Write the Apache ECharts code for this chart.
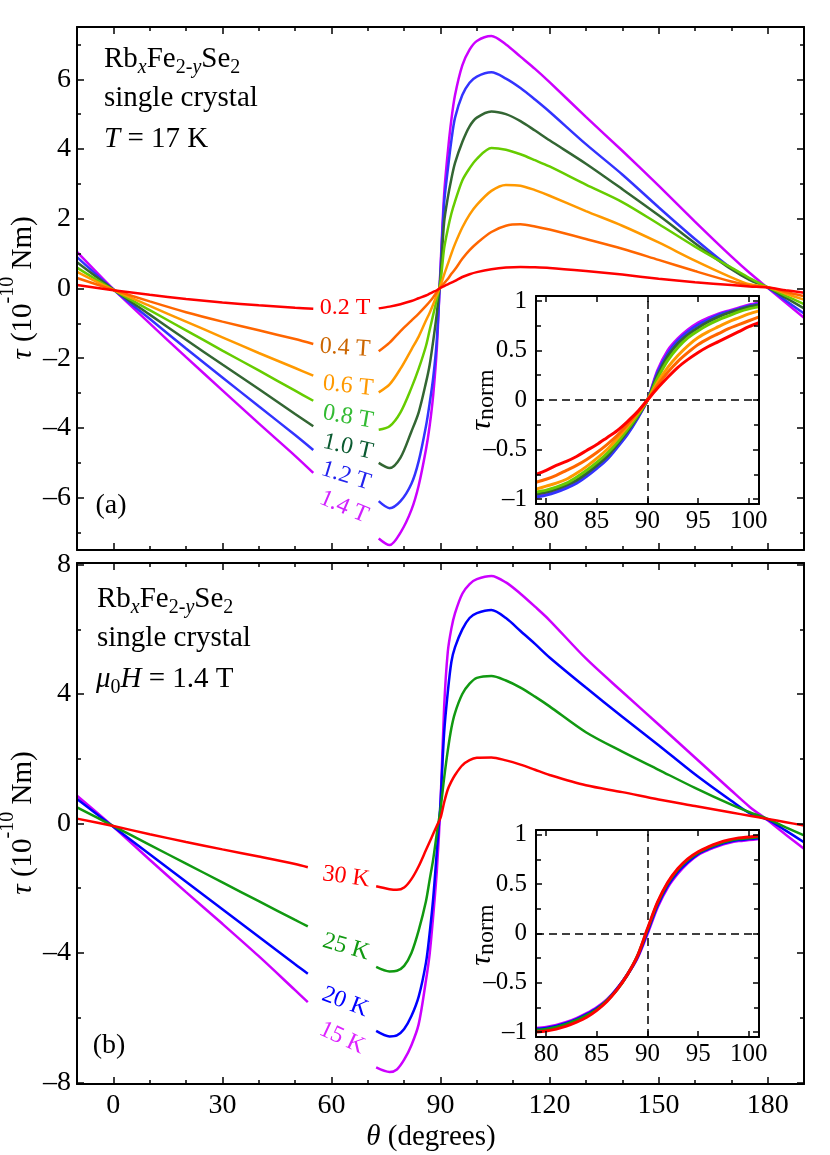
<!DOCTYPE html>
<html><head><meta charset="utf-8">
<script src="https://cdn.jsdelivr.net/npm/echarts@6/dist/echarts.min.js"></script>
<style>html,body{margin:0;padding:0;background:#fff}#c{width:830px;height:1155px}</style>
</head><body><div id="c"></div>
<script>
// ---------- DATA ----------
const thetaA = [-10, 0, 10, 20, 30, 40, 50, 55, 64, 73, 76, 79, 82, 84, 86, 87, 88, 89, 90, 91, 92, 93, 94, 96, 98, 100, 104, 108, 112, 116, 120, 130, 140, 150, 160, 170, 175, 180, 185, 190];
const tauA14 = [1.05, -0.02, -1.0, -1.97, -2.92, -3.87, -4.8, -5.29, null, -7.17, -7.36, -7.0, -6.35, -5.65, -4.62, -3.95, -3.05, -1.7, 0.6, 2.7, 3.9, 4.85, 5.55, 6.4, 6.85, 7.1, 7.24, 7.0, 6.65, 6.3, 5.92, 4.92, 3.95, 2.95, 1.92, 0.92, 0.45, 0.02, -0.41, -0.84];
const tauA12 = [0.9, -0.03, -0.87, -1.72, -2.55, -3.38, -4.2, -4.63, null, -6.1, -6.3, -6.1, -5.6, -4.95, -3.95, -3.3, -2.55, -1.45, 0.5, 2.45, 3.4, 4.25, 4.9, 5.55, 5.9, 6.08, 6.2, 6.02, 5.75, 5.42, 5.07, 4.14, 3.27, 2.33, 1.42, 0.58, 0.28, 0.02, -0.35, -0.72];
const tauA10 = [0.75, -0.03, -0.75, -1.47, -2.18, -2.88, -3.6, -3.95, null, -5.0, -5.15, -4.85, -4.1, -3.55, -2.7, -2.2, -1.5, -0.7, 0.35, 1.9, 2.6, 3.15, 3.6, 4.2, 4.65, 4.9, 5.08, 5.0, 4.8, 4.53, 4.25, 3.58, 2.85, 2.1, 1.3, 0.55, 0.25, 0.03, -0.27, -0.57];
const tauA08 = [0.6, -0.04, -0.62, -1.2, -1.78, -2.35, -2.93, -3.22, null, -4.05, -3.95, -3.55, -2.85, -2.3, -1.65, -1.2, -0.75, -0.3, 0.2, 1.15, 1.7, 2.15, 2.5, 3.1, 3.45, 3.72, 4.03, 3.98, 3.85, 3.68, 3.5, 2.98, 2.48, 1.85, 1.2, 0.6, 0.3, 0.04, -0.21, -0.45];
const tauA06 = [0.48, -0.04, -0.5, -0.95, -1.4, -1.85, -2.28, -2.5, null, -2.98, -2.75, -2.3, -1.75, -1.38, -0.92, -0.7, -0.45, -0.18, 0.08, 0.4, 0.7, 1.0, 1.28, 1.75, 2.12, 2.4, 2.8, 2.97, 2.95, 2.82, 2.66, 2.22, 1.8, 1.32, 0.8, 0.32, 0.12, 0.04, -0.15, -0.32];
const tauA04 = [0.3, -0.04, -0.37, -0.68, -0.95, -1.2, -1.45, -1.59, null, -1.8, -1.55, -1.22, -0.92, -0.72, -0.5, -0.38, -0.25, -0.1, 0.04, 0.15, 0.27, 0.42, 0.55, 0.85, 1.1, 1.3, 1.62, 1.8, 1.84, 1.78, 1.69, 1.42, 1.14, 0.82, 0.5, 0.2, 0.09, 0.04, -0.1, -0.22];
const tauA02 = [0.1, -0.05, -0.18, -0.3, -0.4, -0.48, -0.55, -0.58, null, -0.57, -0.52, -0.45, -0.36, -0.28, -0.2, -0.15, -0.1, -0.05, 0.02, 0.07, 0.12, 0.17, 0.22, 0.33, 0.41, 0.47, 0.55, 0.6, 0.62, 0.61, 0.59, 0.5, 0.4, 0.28, 0.18, 0.1, 0.06, 0.03, -0.05, -0.12];

const thetaB = [-10, 0, 10, 20, 30, 40, 50, 53.5, 63, 72.3, 76, 78, 80, 82, 84, 86, 87, 88, 89, 90, 91, 92, 93, 94, 96, 98, 100, 104, 108, 112, 116, 120, 130, 140, 150, 160, 170, 175, 180, 185, 190];
const tauB15 = [0.86, -0.1, -1.12, -2.12, -3.1, -4.1, -5.15, -5.52, null, -7.54, -7.68, -7.6, -7.3, -6.85, -6.2, -4.85, -4.05, -2.85, -1.45, 0.6, 3.6, 5.3, 6.03, 6.5, 7.1, 7.4, 7.55, 7.65, 7.45, 7.1, 6.7, 6.28, 5.1, 4.07, 3.06, 2.04, 1.02, 0.52, 0.1, -0.35, -0.78];
const tauB20 = [0.76, -0.1, -0.95, -1.8, -2.65, -3.5, -4.35, -4.64, null, -6.41, -6.58, -6.55, -6.35, -5.95, -5.35, -4.3, -3.4, -2.3, -0.85, 0.65, 2.8, 4.05, 5.0, 5.45, 6.0, 6.35, 6.5, 6.6, 6.35, 5.95, 5.55, 5.13, 4.2, 3.3, 2.42, 1.52, 0.7, 0.32, 0.12, -0.22, -0.58];
const tauB25 = [0.5, -0.08, -0.66, -1.24, -1.82, -2.4, -2.98, -3.18, null, -4.43, -4.57, -4.55, -4.4, -4.0, -3.3, -2.4, -1.75, -1.1, -0.3, 0.45, 1.4, 2.25, 2.95, 3.42, 4.0, 4.32, 4.5, 4.56, 4.42, 4.2, 3.92, 3.62, 2.82, 2.22, 1.66, 1.1, 0.58, 0.35, 0.14, -0.12, -0.37];
const tauB30 = [0.15, -0.08, -0.33, -0.57, -0.8, -1.02, -1.25, -1.35, null, -1.94, -2.03, -2.05, -1.98, -1.72, -1.32, -0.82, -0.57, -0.32, -0.07, 0.17, 0.65, 1.05, 1.3, 1.5, 1.8, 1.96, 2.03, 2.04, 1.95, 1.82, 1.66, 1.5, 1.18, 0.97, 0.74, 0.54, 0.34, 0.24, 0.14, 0.04, -0.06];

const thetaIn = [79, 80, 81, 82, 83, 84, 85, 86, 87, 88, 89, 90, 91, 92, 93, 94, 95, 96, 97, 98, 99, 100, 101];
const normA02 = [-0.75, -0.71, -0.66, -0.62, -0.57, -0.51, -0.45, -0.38, -0.31, -0.22, -0.12, 0.0, 0.12, 0.23, 0.33, 0.41, 0.48, 0.54, 0.59, 0.64, 0.69, 0.74, 0.78];
const normA04 = [-0.83, -0.8, -0.76, -0.71, -0.66, -0.6, -0.53, -0.45, -0.36, -0.25, -0.13, 0.0, 0.15, 0.28, 0.39, 0.48, 0.56, 0.62, 0.67, 0.72, 0.76, 0.8, 0.84];
const normA06 = [-0.9, -0.87, -0.84, -0.8, -0.74, -0.67, -0.59, -0.5, -0.39, -0.27, -0.14, 0.0, 0.18, 0.33, 0.45, 0.55, 0.63, 0.69, 0.74, 0.79, 0.83, 0.87, 0.9];
const normA08 = [-0.93, -0.91, -0.88, -0.84, -0.78, -0.71, -0.63, -0.54, -0.43, -0.3, -0.16, 0.0, 0.22, 0.4, 0.53, 0.63, 0.7, 0.76, 0.81, 0.85, 0.89, 0.92, 0.94];
const normA10 = [-0.95, -0.93, -0.9, -0.86, -0.81, -0.74, -0.66, -0.57, -0.45, -0.32, -0.17, 0.0, 0.25, 0.44, 0.57, 0.66, 0.73, 0.79, 0.84, 0.88, 0.91, 0.94, 0.96];
const normA12 = [-0.98, -0.96, -0.93, -0.89, -0.84, -0.77, -0.69, -0.6, -0.48, -0.35, -0.19, 0.0, 0.28, 0.47, 0.6, 0.69, 0.76, 0.81, 0.86, 0.89, 0.92, 0.95, 0.97];
const normA14 = [-0.97, -0.95, -0.92, -0.88, -0.82, -0.75, -0.67, -0.58, -0.47, -0.34, -0.18, 0.0, 0.3, 0.5, 0.62, 0.71, 0.78, 0.83, 0.87, 0.9, 0.93, 0.96, 0.98];
const normB30 = [-1.0, -0.99, -0.97, -0.94, -0.9, -0.85, -0.78, -0.69, -0.57, -0.42, -0.23, 0.05, 0.32, 0.52, 0.66, 0.76, 0.83, 0.88, 0.92, 0.95, 0.97, 0.98, 0.99];
const normB25 = [-0.98, -0.97, -0.95, -0.92, -0.88, -0.83, -0.77, -0.68, -0.57, -0.42, -0.23, 0.04, 0.31, 0.51, 0.65, 0.75, 0.82, 0.87, 0.91, 0.94, 0.96, 0.97, 0.98];
const normB20 = [-0.97, -0.96, -0.94, -0.91, -0.87, -0.82, -0.76, -0.68, -0.56, -0.42, -0.24, 0.02, 0.29, 0.49, 0.63, 0.73, 0.81, 0.86, 0.9, 0.93, 0.95, 0.96, 0.97];
const normB15 = [-0.96, -0.95, -0.93, -0.9, -0.86, -0.81, -0.75, -0.67, -0.56, -0.42, -0.25, 0.0, 0.27, 0.47, 0.61, 0.72, 0.8, 0.85, 0.89, 0.92, 0.94, 0.95, 0.96];

const fieldLabels = ['1.4 T', '1.2 T', '1.0 T', '0.8 T', '0.6 T', '0.4 T', '0.2 T'];
const tempLabels = ['15 K', '20 K', '25 K', '30 K'];
const xTicksMain = [0, 30, 60, 90, 120, 150, 180];
const xMinorMain = [10, 20, 40, 50, 70, 80, 100, 110, 130, 140, 160, 170];
const yTicksA = [-6, -4, -2, 0, 2, 4, 6];
const yMinorA = [-7, -5, -3, -1, 1, 3, 5, 7];
const yTicksB = [-8, -4, 0, 4, 8];
const yMinorB = [-6, -2, 2, 6];
const xTicksIn = [80, 85, 90, 95, 100];
const yTicksIn = [-1, -0.5, 0, 0.5, 1];
const yMinorIn = [-0.75, -0.25, 0.25, 0.75];

// ---------- STYLE ----------
const SERIF = "'Liberation Serif','Times New Roman','DejaVu Serif',serif";
const colA = ['#cc00ff', '#3333ff', '#336633', '#66cc00', '#ff9900', '#ff6600', '#ff0000'];
const labColA = ['#d020ff', '#2222ee', '#0a5a30', '#33bb33', '#ff9900', '#cc6600', '#ff0000'];
const colB = ['#cc00ff', '#0000ff', '#119911', '#ff0000'];
const labColB = ['#dd22ff', '#0000ff', '#119911', '#ff0000'];

const fmt = v => (v < 0 ? '\u2013' + String(-v) : String(v));
const pairs = (xs, ys) => xs.map((x, i) => [x, ys[i] == null ? '-' : ys[i]]);

const xAxis = [], yAxis = [];
function addAxes(list, dim, gi, min, max, majors, minors, labels, cfg) {
  const idx = list.length;
  const sides = dim === 'x' ? ['bottom', 'top'] : ['left', 'right'];
  sides.forEach((side, si) => {
    [[majors, cfg.major], [minors, cfg.minor]].forEach(([vals, len], ki) => {
      if (!vals.length) return;
      list.push({
        type: 'value', gridIndex: gi, min, max, position: side, z: cfg.z,
        axisLine: { show: ki === 0, onZero: false, lineStyle: { color: '#000', width: 2 } },
        axisTick: { show: true, inside: true, length: len, customValues: vals, lineStyle: { color: '#000', width: 1.5 } },
        axisLabel: { show: labels && si === 0 && ki === 0, customValues: majors, formatter: fmt,
          fontFamily: SERIF, fontSize: cfg.fs, color: '#000', margin: cfg.margin },
        splitLine: { show: false }, minorTick: { show: false }
      });
    });
  });
  return idx;
}
const mainX = { major: 7, minor: 4, fs: 28, margin: 8, z: 3 };
const mainY = { major: 7, minor: 4, fs: 28, margin: 6, z: 3 };
const inX = { major: 6, minor: 5, fs: 25, margin: 5, z: 7 };
const inY = { major: 6, minor: 5, fs: 25, margin: 9, z: 7 };

const xa = addAxes(xAxis, 'x', 0, -10, 190, xTicksMain, xMinorMain, false, mainX);
const ya = addAxes(yAxis, 'y', 0, -7.5, 7.5, yTicksA, yMinorA, true, mainY);
const xb = addAxes(xAxis, 'x', 1, -10, 190, xTicksMain, xMinorMain, true, mainX);
const yb = addAxes(yAxis, 'y', 1, -8.05, 8.05, yTicksB, yMinorB, true, mainY);
const xia = addAxes(xAxis, 'x', 2, 79, 101, xTicksIn, [], true, inX);
const yia = addAxes(yAxis, 'y', 2, -1.05, 1.05, yTicksIn, yMinorIn, true, inY);
const xib = addAxes(xAxis, 'x', 3, 79, 101, xTicksIn, [], true, inX);
const yib = addAxes(yAxis, 'y', 3, -1.05, 1.05, yTicksIn, yMinorIn, true, inY);

function line(xs, ys, color, xi, yi, width, z) {
  return { type: 'line', data: pairs(xs, ys), xAxisIndex: xi, yAxisIndex: yi, symbol: 'none', showSymbol: false,
    smooth: 0.3, connectNulls: false, clip: true, silent: true, z,
    lineStyle: { color, width }, itemStyle: { color } };
}
const dashed = { silent: true, symbol: ['none', 'none'], label: { show: false },
  lineStyle: { color: '#000', type: [8, 5], width: 1.5 }, data: [{ xAxis: 90 }, { yAxis: 0 }] };

const series = [];
[tauA14, tauA12, tauA10, tauA08, tauA06, tauA04, tauA02].forEach((ys, i) => series.push(line(thetaA, ys, colA[i], xa, ya, 2.5, 2)));
[tauB15, tauB20, tauB25, tauB30].forEach((ys, i) => series.push(line(thetaB, ys, colB[i], xb, yb, 2.5, 2)));
[normA14, normA12, normA10, normA08, normA06, normA04, normA02].forEach((ys, i) => {
  const s = line(thetaIn, ys, colA[i], xia, yia, 3, 6); if (i === 0) s.markLine = dashed; series.push(s);
});
[normB15, normB20, normB25, normB30].forEach((ys, i) => {
  const s = line(thetaIn, ys, colB[i], xib, yib, 3, 6); if (i === 0) s.markLine = dashed; series.push(s);
});

// ---------- TEXT ----------
function rs(size, extra) { return Object.assign({ fontFamily: SERIF, fontSize: size, fill: '#000' }, extra || {}); }
function txt(x, y, text, size, o) {
  o = o || {};
  return { type: 'text', x, y, z: 20, silent: true, rotation: o.rot || 0,
    style: { text, fontFamily: SERIF, fontSize: size, fontStyle: o.style || 'normal', fill: o.color || '#000',
      align: o.align || 'left', verticalAlign: 'middle', lineHeight: o.lh || size, rich: o.rich } };
}
const formulaRich = {
  n: rs(29, { lineHeight: 38 }), ni: rs(29, { lineHeight: 38, fontStyle: 'italic' }),
  s: rs(20, { lineHeight: 19, verticalAlign: 'bottom' }), si: rs(20, { lineHeight: 19, verticalAlign: 'bottom', fontStyle: 'italic' })
};
const formula = '{n|Rb}{si|x}{n|Fe}{s|2-}{si|y}{n|Se}{s|2}';
const graphic = [];
graphic.push(txt(104, 59, formula, 29, { rich: formulaRich, lh: 38 }));
graphic.push(txt(104, 98, 'single crystal', 29));
graphic.push(txt(104, 139, '{ni|T}{n| = 17 K}', 29, { rich: formulaRich, lh: 38 }));
graphic.push(txt(97, 599, formula, 29, { rich: formulaRich, lh: 38 }));
graphic.push(txt(97, 638, 'single crystal', 29));
graphic.push(txt(96, 679, '{ni|\u03bc}{s|0}{ni|H}{n| = 1.4 T}', 29, { rich: formulaRich, lh: 38 }));
graphic.push(txt(111, 506, '(a)', 28, { align: 'center' }));
graphic.push(txt(109, 1046, '(b)', 28, { align: 'center' }));

const yTitleRich = { i: rs(29, { fontStyle: 'italic', lineHeight: 50 }), m: rs(29, { lineHeight: 50 }), sup: rs(20, { lineHeight: 16, verticalAlign: 'top' }) };
const yTitle = '{i|\u03c4}{m| (10}{sup|-10}{m| Nm)}';
graphic.push(txt(23, 288, yTitle, 29, { rot: Math.PI / 2, align: 'center', rich: yTitleRich, lh: 50 }));
graphic.push(txt(23, 823, yTitle, 29, { rot: Math.PI / 2, align: 'center', rich: yTitleRich, lh: 50 }));
graphic.push(txt(431, 1137, '{i|\u03b8}{m| (degrees)}', 29, { align: 'center', rich: { i: rs(29, { fontStyle: 'italic' }), m: rs(29) } }));
const normRich = { i: rs(30, { fontStyle: 'italic', lineHeight: 34 }), sub: rs(24, { lineHeight: 24, verticalAlign: 'bottom' }) };
graphic.push(txt(482, 400, '{i|\u03c4}{sub|norm}', 30, { rot: Math.PI / 2, align: 'center', rich: normRich, lh: 34 }));
graphic.push(txt(482, 935, '{i|\u03c4}{sub|norm}', 30, { rot: Math.PI / 2, align: 'center', rich: normRich, lh: 34 }));

const labPosA = [[344, 507, 23], [346, 476, 17], [348, 447, 13], [348, 417, 10], [348, 386, 6], [345, 348, 4], [345, 307.5, 0]];
fieldLabels.forEach((t, i) => graphic.push(txt(labPosA[i][0], labPosA[i][1], t, 24, { align: 'center', color: labColA[i], rot: -labPosA[i][2] * Math.PI / 180 })));
const labPosB = [[342, 1038, 25], [345, 1002, 21], [346, 947, 16], [346, 877, 8]];
tempLabels.forEach((t, i) => graphic.push(txt(labPosB[i][0], labPosB[i][1], t, 24, { align: 'center', color: labColB[i], rot: -labPosB[i][2] * Math.PI / 180 })));

const chart = echarts.init(document.getElementById('c'), null, { renderer: 'canvas' });
chart.setOption({
  animation: false,
  backgroundColor: '#fff',
  grid: [
    { left: 77, top: 27, width: 727, height: 523, show: false },
    { left: 77, top: 563, width: 727, height: 521, show: false },
    { left: 536, top: 296, width: 223, height: 208, show: true, backgroundColor: '#fff', borderWidth: 0, z: 5 },
    { left: 536, top: 830, width: 223, height: 207, show: true, backgroundColor: '#fff', borderWidth: 0, z: 5 }
  ],
  xAxis, yAxis, series, graphic
});
</script></body></html>
